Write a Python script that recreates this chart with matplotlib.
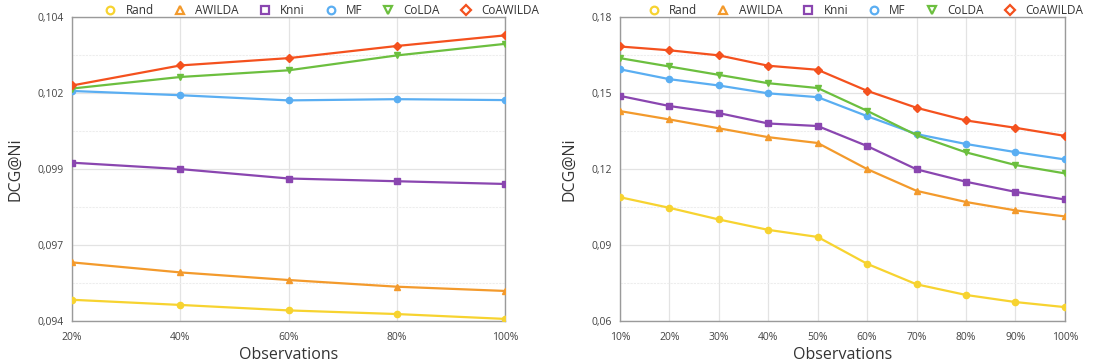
import numpy as np
import matplotlib.pyplot as plt
from matplotlib.lines import Line2D

plt.rcParams['font.family'] = ['Open Sans', 'DejaVu Sans']

methods = ['Rand', 'AWILDA', 'Knni', 'MF', 'CoLDA', 'CoAWILDA']
colors = ['#F7D330', '#F39A2C', '#8A46B0', '#5AAEF2', '#6CBF3F', '#F4511E']
markers = ['o', '^', 's', 'o', 'v', 'D']

# left panel
obs_left = ['20%', '40%', '60%', '80%', '100%']
left_vals = {
    'Rand':     [0.09470, 0.09453, 0.09435, 0.09423, 0.09407],
    'AWILDA':   [0.09593, 0.09560, 0.09535, 0.09513, 0.09499],
    'Knni':     [0.09921, 0.09900, 0.09869, 0.09860, 0.09851],
    'MF':       [0.10157, 0.10143, 0.10126, 0.10130, 0.10127],
    'CoLDA':    [0.10165, 0.10203, 0.10225, 0.10274, 0.10312],
    'CoAWILDA': [0.10175, 0.10241, 0.10265, 0.10305, 0.10340],
}
left_yticks = [0.094, 0.0965, 0.099, 0.1015, 0.104]
left_ylabels = ['0,094', '0,097', '0,099', '0,102', '0,104']

# right panel
obs_right = ['10%', '20%', '30%', '40%', '50%', '60%', '70%', '80%', '90%', '100%']
right_vals = {
    'Rand':     [0.1089, 0.1047, 0.1001, 0.0960, 0.0932, 0.0826, 0.0745, 0.0703, 0.0675, 0.0655],
    'AWILDA':   [0.1429, 0.1396, 0.1361, 0.1326, 0.1303, 0.1200, 0.1114, 0.1070, 0.1037, 0.1013],
    'Knni':     [0.1489, 0.1449, 0.1421, 0.1380, 0.1370, 0.1291, 0.1199, 0.1150, 0.1110, 0.1080],
    'MF':       [0.1594, 0.1555, 0.1530, 0.1499, 0.1484, 0.1409, 0.1338, 0.1299, 0.1267, 0.1238],
    'CoLDA':    [0.1638, 0.1605, 0.1572, 0.1539, 0.1520, 0.1430, 0.1334, 0.1266, 0.1216, 0.1183],
    'CoAWILDA': [0.1684, 0.1669, 0.1649, 0.1608, 0.1592, 0.1509, 0.1442, 0.1392, 0.1363, 0.1331],
}
right_yticks = [0.06, 0.09, 0.12, 0.15, 0.18]
right_ylabels = ['0,06', '0,09', '0,12', '0,15', '0,18']


def draw_panel(ax, cats, vals, yticks, ylabels, legend_x):
    x = np.arange(len(cats))
    for m, c, mk in zip(methods, colors, markers):
        ax.plot(x, vals[m], color=c, marker=mk, markersize=4.5, linewidth=1.6,
                markeredgecolor=c, zorder=3)
    ax.set_xlim(x[0], x[-1])
    ax.set_xticks(x)
    ax.set_xticklabels(cats)
    ax.set_ylim(yticks[0], yticks[-1])
    ax.set_yticks(yticks)
    ax.set_yticklabels(ylabels)
    minor = [(a + b) / 2 for a, b in zip(yticks[:-1], yticks[1:])]
    ax.set_yticks(minor, minor=True)
    ax.grid(True, which='major', color='#E3E3E3', linewidth=0.9)
    ax.grid(True, which='minor', axis='y', color='#EDEDED', linewidth=0.8, linestyle=(0, (2, 1)))
    ax.tick_params(which='both', length=0, labelsize=7.5, colors='#444444', pad=6)
    ax.tick_params(axis='x', pad=8)
    for s in ax.spines.values():
        s.set_color('#9A9A9A')
        s.set_linewidth(1.0)
    ax.set_ylabel('DCG@Ni', fontsize=11.5, color='#333333', labelpad=10)
    ax.set_xlabel('Observations', fontsize=11.5, color='#333333', labelpad=3)
    handles = [Line2D([], [], color=c, marker=mk, linestyle='none', markersize=5.5,
                      markerfacecolor='white', markeredgewidth=1.6, markeredgecolor=c)
               for c, mk in zip(colors, markers)]
    ax.legend(handles, methods, loc='lower center', bbox_to_anchor=(legend_x, 0.985), ncol=6,
              frameon=False, fontsize=8.5, handletextpad=0.3, columnspacing=1.2,
              borderaxespad=0, labelcolor='#333333')


fig = plt.figure(figsize=(11.05, 3.64), dpi=100)
ax1 = fig.add_axes([0.0652, 0.118, 0.392, 0.835])
ax2 = fig.add_axes([0.561, 0.118, 0.4027, 0.835])
draw_panel(ax1, obs_left, left_vals, left_yticks, left_ylabels, 0.57)
draw_panel(ax2, obs_right, right_vals, right_yticks, right_ylabels, 0.545)
fig.savefig('out.png', dpi=100)
